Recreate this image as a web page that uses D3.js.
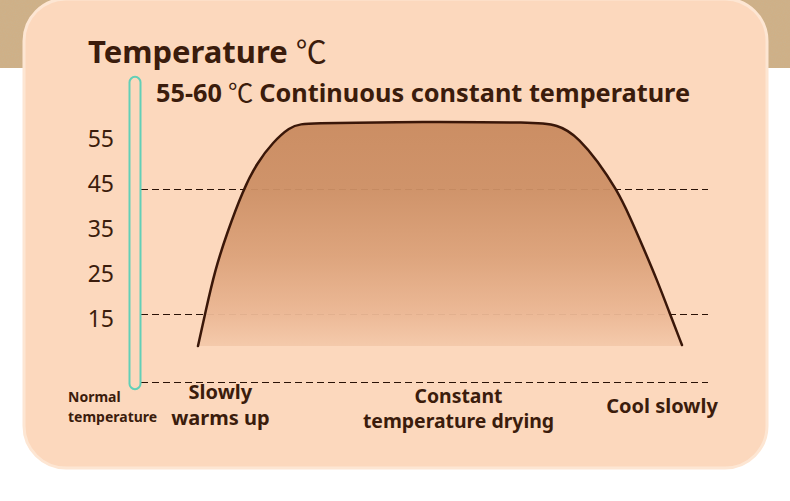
<!DOCTYPE html>
<html>
<head>
<meta charset="utf-8">
<script src="https://cdn.jsdelivr.net/npm/d3@7"></script>
<style>
  html, body { margin: 0; padding: 0; background: #ffffff; }
  svg { display: block; }
  text { font-family: "Noto Sans", "Noto Sans CJK SC", sans-serif; }
</style>
</head>
<body>
<svg id="chart" width="790" height="501"></svg>
<script>
// ---- data ----
const tickValues = [55, 45, 35, 25, 15];
// process progress (0-100) and temperature (°C) along the drying curve
const progress = [10.05, 11.29, 13.05, 15.17, 17.99, 20.46, 23.28, 26.28, 28.04, 31.04, 38.0, 45.0, 52.73, 60.0, 67.0, 73.9, 77.43, 80.42, 83.95, 86.24, 88.54, 91.01, 93.3, 95.41];
const temperature = [9.09, 16.2, 25.98, 34.2, 43.76, 49.76, 54.42, 57.76, 58.42, 58.58, 58.7, 58.8, 58.87, 58.85, 58.75, 58.58, 54.87, 50.42, 43.76, 37.76, 31.09, 23.76, 16.2, 9.31];
const guideLevels = [44, 16.2, 1.1];
const thermometerRange = [-0.5, 68.9];
const titleText = "Temperature";
const subtitleLead = "55-60";
const subtitleRest = "Continuous constant temperature";
const phaseLabels = [
  { lines: ["Normal", "temperature"], pos: 0 },
  { lines: ["Slowly", "warms up"], pos: 14 },
  { lines: ["Constant", "temperature drying"], pos: 56 },
  { lines: ["Cool slowly"], pos: 91.9 }
];

// ---- setup ----
const svg = d3.select("#chart");
const W = 790, H = 501;
const dark = "#3b1c0c";

const defs = svg.append("defs");
const noise = defs.append("filter").attr("id", "sand").attr("x", 0).attr("y", 0).attr("width", "100%").attr("height", "100%");
noise.append("feTurbulence").attr("type", "fractalNoise").attr("baseFrequency", 0.9).attr("numOctaves", 2).attr("seed", 3).attr("result", "n");
noise.append("feColorMatrix").attr("in", "n").attr("type", "matrix")
  .attr("values", "0 0 0 0 0.58  0 0 0 0 0.45  0 0 0 0 0.28  0 0 0 1.1 -0.38").attr("result", "c");
noise.append("feComposite").attr("in", "c").attr("in2", "SourceGraphic").attr("operator", "over");

// background: sand strip on top, white below
svg.append("rect").attr("x", 0).attr("y", 0).attr("width", W).attr("height", H).attr("fill", "#ffffff");
svg.append("rect").attr("x", 0).attr("y", 0).attr("width", W).attr("height", 68)
  .attr("fill", "#cfb087").attr("filter", "url(#sand)");

// card
svg.append("rect").attr("x", 24).attr("y", -1).attr("width", 743).attr("height", 469)
  .attr("rx", 42).attr("ry", 42)
  .attr("fill", "#fcd8bd").attr("stroke", "#fde6d3").attr("stroke-width", 3);

// scales
const x = d3.scaleLinear().domain([0, 100]).range([141, 708]);
const y = d3.scaleLinear().domain([0, 60]).range([386.9, 116.9]);

// gradient
const grad = defs.append("linearGradient").attr("id", "fillGrad")
  .attr("gradientUnits", "userSpaceOnUse")
  .attr("x1", 0).attr("x2", 0)
  .attr("y1", y(d3.max(temperature))).attr("y2", y(d3.min(temperature)));
[[0, "#c98a5f"], [0.3, "#cd9066"], [0.6, "#dca27a"], [0.85, "#ebb794"], [1, "#f4c9aa"]].forEach(([o, c]) =>
  grad.append("stop").attr("offset", o).attr("stop-color", c));

// guide lines
svg.append("g").selectAll("line").data(guideLevels).join("line")
  .attr("x1", x(0)).attr("x2", x(100))
  .attr("y1", d => Math.round(y(d)) + 0.5).attr("y2", d => Math.round(y(d)) + 0.5)
  .attr("stroke", "#2a1206").attr("stroke-width", 1.2).attr("stroke-dasharray", "7,4");

// area + curve
const pts = progress.map((p, i) => [p, temperature[i]]);
const baseT = d3.min(temperature);
const curve = d3.curveBasis;
const area = d3.area().x(d => x(d[0])).y0(y(baseT)).y1(d => y(d[1])).curve(curve);
const line = d3.line().x(d => x(d[0])).y(d => y(d[1])).curve(curve);
svg.append("path").datum(pts).attr("d", area).attr("fill", "url(#fillGrad)").attr("opacity", 0.95);
svg.append("path").datum(pts).attr("d", line).attr("fill", "none")
  .attr("stroke", "#3a1709").attr("stroke-width", 2.5).attr("stroke-linecap", "round");

// thermometer tube
svg.append("rect")
  .attr("x", 129.5).attr("width", 11)
  .attr("y", y(thermometerRange[1])).attr("height", y(thermometerRange[0]) - y(thermometerRange[1]))
  .attr("rx", 5.5).attr("ry", 5.5)
  .attr("fill", "none").attr("stroke", "#62cfb7").attr("stroke-width", 2);

// y axis
const axis = svg.append("g").attr("transform", `translate(${x(0)},0)`)
  .call(d3.axisLeft(y).tickValues(tickValues).tickSize(0).tickPadding(27));
axis.select(".domain").remove();
axis.selectAll("text").attr("font-size", 23).attr("fill", dark)
  .attr("font-family", "'Noto Sans', sans-serif");

// title
const title = svg.append("text").attr("x", 88).attr("y", 63).attr("fill", dark).attr("font-size", 31);
title.append("tspan").attr("font-weight", 700).text(titleText);
title.append("tspan").attr("font-weight", 400).attr("dx", 8).attr("font-family", "'Noto Sans CJK SC', sans-serif").text("℃");

const sub = svg.append("text").attr("x", 156).attr("y", 102).attr("fill", dark).attr("font-size", 25.3);
sub.append("tspan").attr("font-weight", 700).text(subtitleLead);
sub.append("tspan").attr("font-weight", 400).attr("dx", 6).attr("font-family", "'Noto Sans CJK SC', sans-serif").text("℃");
sub.append("tspan").attr("font-weight", 700).attr("dx", 6).text(subtitleRest);

// phase labels
const phaseStyle = [
  { size: 14, anchor: "start", x: 68, ys: [402, 422] },
  { size: 20, anchor: "middle", x: null, ys: [399, 425] },
  { size: 19.4, anchor: "middle", x: null, ys: [403, 428] },
  { size: 20, anchor: "middle", x: null, ys: [413] }
];
phaseLabels.forEach((p, i) => {
  const st = phaseStyle[i];
  const tx = st.x !== null ? st.x : x(p.pos);
  p.lines.forEach((ln, j) => {
    svg.append("text").attr("x", tx).attr("y", st.ys[j])
      .attr("text-anchor", st.anchor).attr("font-size", st.size)
      .attr("font-weight", 700).attr("fill", dark).text(ln);
  });
});
</script>
</body>
</html>
